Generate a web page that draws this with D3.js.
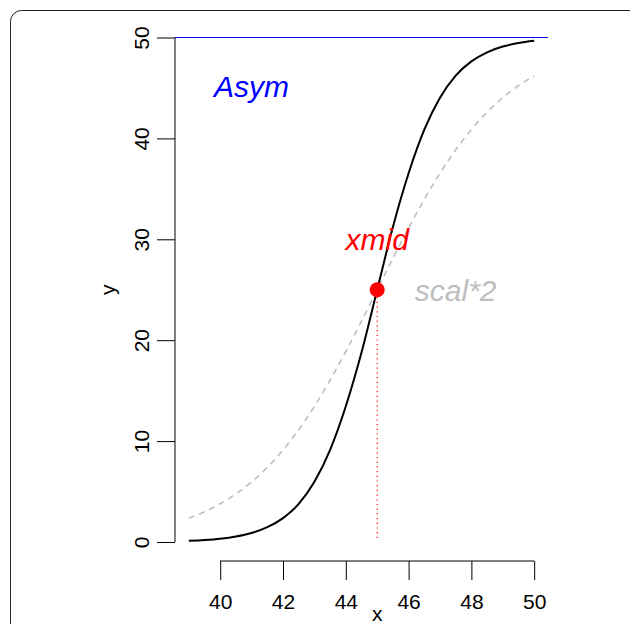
<!DOCTYPE html>
<meta charset="utf-8">
<title>Logistic curve</title>
<style>
body {
  margin: 0;
  background: #fff;
}
svg {
  display: block;
  font-family: "Liberation Sans", Arial, sans-serif;
}
.axis text {
  font-size: 21px;
  fill: #000;
}
.axis line, .axis path {
  stroke: #000;
  stroke-width: 1;
}
.lab {
  font-size: 30px;
  font-style: italic;
  text-anchor: middle;
}
</style>
<body>
<svg width="630" height="624"></svg>

<script src="https://cdn.jsdelivr.net/npm/d3@7"></script>
<script>
var xs = [39, 39.5, 40, 40.5, 41, 41.5, 42, 42.5, 43, 43.5, 44, 44.5, 45,
          45.5, 46, 46.5, 47, 47.5, 48, 48.5, 49, 49.5, 50];

// solid black curve (scal = 1)
var ySolid = [0.12, 0.20, 0.33, 0.55, 0.90, 1.47, 2.37, 3.77, 5.96, 9.13, 13.45, 18.78, 25,
              31.22, 36.55, 40.87, 44.04, 46.23, 47.63, 48.53, 49.10, 49.45, 49.67];

// grey dashed curve (scal * 2)
var yDashed = [2.37, 3.00, 3.79, 4.77, 5.96, 7.40, 9.12, 11.13, 13.45, 16.04, 18.88, 21.89, 25,
               28.11, 31.12, 33.96, 36.55, 38.87, 40.88, 42.60, 44.04, 45.23, 46.21];

var asym = 50;
var xmid = 45;
var midY = 25;

var xTicks = [40, 42, 44, 46, 48, 50];
var yTicks = [0, 10, 20, 30, 40, 50];

// labels: text, x, y, colour
var labels = [
  {text: "Asym",   x: 41,   y: 45.2, color: "#0000ff"},
  {text: "xmid",   x: 45,   y: 30,   color: "#ff0000"},
  {text: "scal*2", x: 47.5, y: 25,   color: "#bebebe"}
];

var svg = d3.select("svg");

// outer rounded frame
svg.append("rect")
    .attr("x", 10.5).attr("y", 10.5)
    .attr("width", 640).attr("height", 700)
    .attr("rx", 11)
    .attr("fill", "none")
    .attr("stroke", "#222")
    .attr("stroke-width", 1);

// plot region: data range 39..50 padded by 4%
var x = d3.scaleLinear().domain([38.56, 50.44]).range([175, 548]);
var y = d3.scaleLinear().domain([0, 50]).range([542, 37.5]);

var plot = svg.append("g");

// y axis
var yAxis = svg.append("g")
    .attr("class", "axis")
    .attr("transform", "translate(175,0)")
    .call(d3.axisLeft(y).tickValues(yTicks).tickSize(18).tickSizeOuter(0));
yAxis.select(".domain").attr("d", "M0," + y(0) + "V" + y(50));
yAxis.selectAll(".tick text")
    .attr("x", null).attr("dy", null)
    .attr("text-anchor", "middle")
    .attr("transform", "translate(-26.5,0) rotate(-90)");

// x axis
var xAxis = svg.append("g")
    .attr("class", "axis")
    .attr("transform", "translate(0,561)")
    .call(d3.axisBottom(x).tickValues(xTicks).tickSize(19).tickSizeOuter(0));
xAxis.select(".domain").attr("d", "M" + x(40) + ",0H" + x(50));
xAxis.selectAll(".tick text")
    .attr("y", 48).attr("dy", null);

// axis titles
svg.append("text")
    .attr("x", x(45)).attr("y", 620.5)
    .attr("text-anchor", "middle")
    .style("font-size", "21px")
    .text("x");
svg.append("text")
    .attr("transform", "translate(115," + y(25) + ") rotate(-90)")
    .attr("text-anchor", "middle")
    .style("font-size", "21px")
    .text("y");

// asymptote
plot.append("line")
    .attr("x1", x.range()[0]).attr("x2", x.range()[1])
    .attr("y1", y(asym)).attr("y2", y(asym))
    .attr("stroke", "#0000ff")
    .attr("stroke-width", 1);

var line = d3.line()
    .x(function(d) { return x(d[0]); })
    .y(function(d) { return y(d[1]); })
    .curve(d3.curveMonotoneX);

plot.append("path")
    .datum(d3.zip(xs, yDashed))
    .attr("d", line)
    .attr("fill", "none")
    .attr("stroke", "#bebebe")
    .attr("stroke-width", 1.6)
    .attr("stroke-dasharray", "6,5");

plot.append("path")
    .datum(d3.zip(xs, ySolid))
    .attr("d", line)
    .attr("fill", "none")
    .attr("stroke", "#000")
    .attr("stroke-width", 2);

// midpoint drop line and point
plot.append("line")
    .attr("x1", x(xmid)).attr("x2", x(xmid))
    .attr("y1", y(0) - 4).attr("y2", y(midY))
    .attr("stroke", "#ff0000")
    .attr("stroke-width", 1.2)
    .attr("stroke-dasharray", "1.2,3.5");

plot.append("circle")
    .attr("cx", x(xmid)).attr("cy", y(midY))
    .attr("r", 7.5)
    .attr("fill", "#ff0000");

// labels
plot.selectAll(".lab")
  .data(labels)
  .enter().append("text")
    .attr("class", "lab")
    .attr("x", function(d) { return x(d.x); })
    .attr("y", function(d) { return y(d.y); })
    .attr("dy", "0.36em")
    .attr("fill", function(d) { return d.color; })
    .text(function(d) { return d.text; });
</script>
</body>
